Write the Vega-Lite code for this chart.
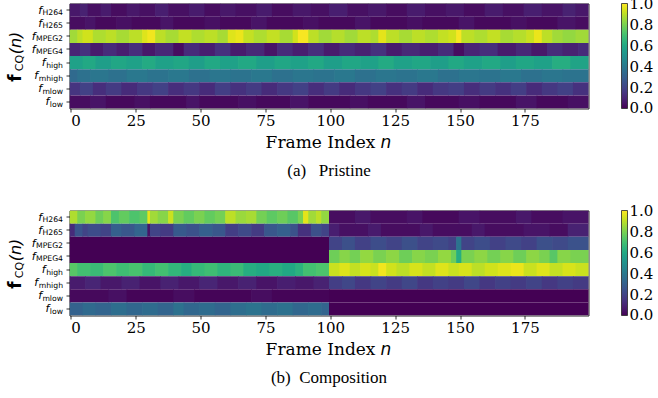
{
  "$schema": "https://vega.github.io/schema/vega-lite/v6.json",
  "padding": {"left": 5.5, "top": 2.5, "right": 0, "bottom": 0},
  "spacing": 30,
  "config": {
    "view": {"stroke": "#262626", "strokeWidth": 1},
    "axis": {"labelColor": "#000", "tickColor": "#000", "titleColor": "#000", "grid": false, "domain": false, "titleFontWeight": "normal"},
    "legend": {"gradientLength": 105, "gradientThickness": 6, "gradientStrokeColor": "#262626", "gradientStrokeWidth": 0.8, "labelFont": "DejaVu Serif", "labelFontSize": 15, "labelColor": "#000", "labelOffset": 5, "offset": 33.4, "padding": 0, "labelBaseline": "middle", "labelOverlap": false}
  },
  "resolve": {"scale": {"color": "independent"}, "legend": {"color": "independent"}},
  "datasets": {
    "labels": [{"f": "H264"}, {"f": "H265"}, {"f": "MPEG2"}, {"f": "MPEG4"}, {"f": "high"}, {"f": "mhigh"}, {"f": "mlow"}, {"f": "low"}],
    "a": [
      {"f":"H264","x":0,"x2":4,"v":0.06},{"f":"H264","x":4,"x2":7,"v":0.09},{"f":"H264","x":7,"x2":12,"v":0.04},{"f":"H264","x":12,"x2":16,"v":0.07},{"f":"H264","x":16,"x2":22,"v":0.03},{"f":"H264","x":22,"x2":27,"v":0.06},{"f":"H264","x":27,"x2":33,"v":0.04},{"f":"H264","x":33,"x2":38,"v":0.08},{"f":"H264","x":38,"x2":46,"v":0.04},{"f":"H264","x":46,"x2":52,"v":0.07},{"f":"H264","x":52,"x2":58,"v":0.03},{"f":"H264","x":58,"x2":64,"v":0.06},{"f":"H264","x":64,"x2":72,"v":0.04},{"f":"H264","x":72,"x2":78,"v":0.07},{"f":"H264","x":78,"x2":86,"v":0.03},{"f":"H264","x":86,"x2":93,"v":0.06},{"f":"H264","x":93,"x2":100,"v":0.04},{"f":"H264","x":100,"x2":107,"v":0.08},{"f":"H264","x":107,"x2":115,"v":0.04},{"f":"H264","x":115,"x2":122,"v":0.06},{"f":"H264","x":122,"x2":130,"v":0.03},{"f":"H264","x":130,"x2":137,"v":0.07},{"f":"H264","x":137,"x2":145,"v":0.04},{"f":"H264","x":145,"x2":152,"v":0.06},{"f":"H264","x":152,"x2":160,"v":0.03},{"f":"H264","x":160,"x2":167,"v":0.07},{"f":"H264","x":167,"x2":175,"v":0.04},{"f":"H264","x":175,"x2":182,"v":0.08},{"f":"H264","x":182,"x2":190,"v":0.05},{"f":"H264","x":190,"x2":195,"v":0.09},{"f":"H264","x":195,"x2":200,"v":0.06},
      {"f":"H265","x":0,"x2":6,"v":0.03},{"f":"H265","x":6,"x2":10,"v":0.05},{"f":"H265","x":10,"x2":18,"v":0.02},{"f":"H265","x":18,"x2":24,"v":0.04},{"f":"H265","x":24,"x2":35,"v":0.02},{"f":"H265","x":35,"x2":40,"v":0.05},{"f":"H265","x":40,"x2":52,"v":0.02},{"f":"H265","x":52,"x2":58,"v":0.04},{"f":"H265","x":58,"x2":70,"v":0.02},{"f":"H265","x":70,"x2":76,"v":0.05},{"f":"H265","x":76,"x2":90,"v":0.02},{"f":"H265","x":90,"x2":96,"v":0.04},{"f":"H265","x":96,"x2":110,"v":0.02},{"f":"H265","x":110,"x2":116,"v":0.05},{"f":"H265","x":116,"x2":130,"v":0.02},{"f":"H265","x":130,"x2":136,"v":0.04},{"f":"H265","x":136,"x2":150,"v":0.02},{"f":"H265","x":150,"x2":156,"v":0.05},{"f":"H265","x":156,"x2":170,"v":0.02},{"f":"H265","x":170,"x2":176,"v":0.04},{"f":"H265","x":176,"x2":188,"v":0.02},{"f":"H265","x":188,"x2":195,"v":0.05},{"f":"H265","x":195,"x2":200,"v":0.03},
      {"f":"MPEG2","x":0,"x2":3,"v":0.86},{"f":"MPEG2","x":3,"x2":5,"v":0.9},{"f":"MPEG2","x":5,"x2":9,"v":0.93},{"f":"MPEG2","x":9,"x2":14,"v":0.88},{"f":"MPEG2","x":14,"x2":18,"v":0.9},{"f":"MPEG2","x":18,"x2":23,"v":0.87},{"f":"MPEG2","x":23,"x2":28,"v":0.9},{"f":"MPEG2","x":28,"x2":30,"v":0.95},{"f":"MPEG2","x":30,"x2":33,"v":0.98},{"f":"MPEG2","x":33,"x2":37,"v":0.9},{"f":"MPEG2","x":37,"x2":42,"v":0.87},{"f":"MPEG2","x":42,"x2":47,"v":0.91},{"f":"MPEG2","x":47,"x2":52,"v":0.88},{"f":"MPEG2","x":52,"x2":57,"v":0.9},{"f":"MPEG2","x":57,"x2":61,"v":0.87},{"f":"MPEG2","x":61,"x2":64,"v":0.95},{"f":"MPEG2","x":64,"x2":67,"v":0.97},{"f":"MPEG2","x":67,"x2":71,"v":0.91},{"f":"MPEG2","x":71,"x2":76,"v":0.88},{"f":"MPEG2","x":76,"x2":81,"v":0.91},{"f":"MPEG2","x":81,"x2":86,"v":0.87},{"f":"MPEG2","x":86,"x2":88,"v":0.93},{"f":"MPEG2","x":88,"x2":92,"v":0.99},{"f":"MPEG2","x":92,"x2":96,"v":0.9},{"f":"MPEG2","x":96,"x2":101,"v":0.86},{"f":"MPEG2","x":101,"x2":106,"v":0.89},{"f":"MPEG2","x":106,"x2":111,"v":0.86},{"f":"MPEG2","x":111,"x2":116,"v":0.9},{"f":"MPEG2","x":116,"x2":119,"v":0.88},{"f":"MPEG2","x":119,"x2":122,"v":0.96},{"f":"MPEG2","x":122,"x2":127,"v":0.9},{"f":"MPEG2","x":127,"x2":132,"v":0.87},{"f":"MPEG2","x":132,"x2":137,"v":0.9},{"f":"MPEG2","x":137,"x2":142,"v":0.88},{"f":"MPEG2","x":142,"x2":146,"v":0.91},{"f":"MPEG2","x":146,"x2":149,"v":0.93},{"f":"MPEG2","x":149,"x2":151,"v":0.99},{"f":"MPEG2","x":151,"x2":156,"v":0.9},{"f":"MPEG2","x":156,"x2":161,"v":0.88},{"f":"MPEG2","x":161,"x2":166,"v":0.91},{"f":"MPEG2","x":166,"x2":171,"v":0.87},{"f":"MPEG2","x":171,"x2":176,"v":0.89},{"f":"MPEG2","x":176,"x2":179,"v":0.92},{"f":"MPEG2","x":179,"x2":182,"v":0.97},{"f":"MPEG2","x":182,"x2":186,"v":0.9},{"f":"MPEG2","x":186,"x2":190,"v":0.86},{"f":"MPEG2","x":190,"x2":195,"v":0.84},{"f":"MPEG2","x":195,"x2":200,"v":0.86},
      {"f":"MPEG4","x":0,"x2":4,"v":0.1},{"f":"MPEG4","x":4,"x2":8,"v":0.14},{"f":"MPEG4","x":8,"x2":13,"v":0.07},{"f":"MPEG4","x":13,"x2":18,"v":0.12},{"f":"MPEG4","x":18,"x2":23,"v":0.08},{"f":"MPEG4","x":23,"x2":28,"v":0.13},{"f":"MPEG4","x":28,"x2":33,"v":0.06},{"f":"MPEG4","x":33,"x2":40,"v":0.11},{"f":"MPEG4","x":40,"x2":44,"v":0.03},{"f":"MPEG4","x":44,"x2":50,"v":0.12},{"f":"MPEG4","x":50,"x2":56,"v":0.08},{"f":"MPEG4","x":56,"x2":62,"v":0.14},{"f":"MPEG4","x":62,"x2":68,"v":0.07},{"f":"MPEG4","x":68,"x2":75,"v":0.11},{"f":"MPEG4","x":75,"x2":80,"v":0.05},{"f":"MPEG4","x":80,"x2":86,"v":0.12},{"f":"MPEG4","x":86,"x2":92,"v":0.08},{"f":"MPEG4","x":92,"x2":98,"v":0.13},{"f":"MPEG4","x":98,"x2":104,"v":0.07},{"f":"MPEG4","x":104,"x2":110,"v":0.12},{"f":"MPEG4","x":110,"x2":116,"v":0.09},{"f":"MPEG4","x":116,"x2":122,"v":0.14},{"f":"MPEG4","x":122,"x2":128,"v":0.07},{"f":"MPEG4","x":128,"x2":135,"v":0.11},{"f":"MPEG4","x":135,"x2":142,"v":0.08},{"f":"MPEG4","x":142,"x2":148,"v":0.12},{"f":"MPEG4","x":148,"x2":152,"v":0.03},{"f":"MPEG4","x":152,"x2":158,"v":0.1},{"f":"MPEG4","x":158,"x2":165,"v":0.13},{"f":"MPEG4","x":165,"x2":172,"v":0.07},{"f":"MPEG4","x":172,"x2":178,"v":0.11},{"f":"MPEG4","x":178,"x2":184,"v":0.06},{"f":"MPEG4","x":184,"x2":190,"v":0.12},{"f":"MPEG4","x":190,"x2":196,"v":0.09},{"f":"MPEG4","x":196,"x2":200,"v":0.12},
      {"f":"high","x":0,"x2":5,"v":0.57},{"f":"high","x":5,"x2":10,"v":0.6},{"f":"high","x":10,"x2":16,"v":0.56},{"f":"high","x":16,"x2":22,"v":0.59},{"f":"high","x":22,"x2":28,"v":0.57},{"f":"high","x":28,"x2":33,"v":0.61},{"f":"high","x":33,"x2":40,"v":0.57},{"f":"high","x":40,"x2":46,"v":0.59},{"f":"high","x":46,"x2":52,"v":0.56},{"f":"high","x":52,"x2":58,"v":0.6},{"f":"high","x":58,"x2":65,"v":0.57},{"f":"high","x":65,"x2":72,"v":0.6},{"f":"high","x":72,"x2":79,"v":0.56},{"f":"high","x":79,"x2":85,"v":0.59},{"f":"high","x":85,"x2":92,"v":0.57},{"f":"high","x":92,"x2":98,"v":0.6},{"f":"high","x":98,"x2":105,"v":0.56},{"f":"high","x":105,"x2":112,"v":0.59},{"f":"high","x":112,"x2":119,"v":0.57},{"f":"high","x":119,"x2":125,"v":0.61},{"f":"high","x":125,"x2":132,"v":0.57},{"f":"high","x":132,"x2":139,"v":0.59},{"f":"high","x":139,"x2":146,"v":0.56},{"f":"high","x":146,"x2":152,"v":0.6},{"f":"high","x":152,"x2":159,"v":0.57},{"f":"high","x":159,"x2":166,"v":0.6},{"f":"high","x":166,"x2":172,"v":0.56},{"f":"high","x":172,"x2":179,"v":0.59},{"f":"high","x":179,"x2":186,"v":0.57},{"f":"high","x":186,"x2":193,"v":0.62},{"f":"high","x":193,"x2":200,"v":0.58},
      {"f":"mhigh","x":0,"x2":3,"v":0.34},{"f":"mhigh","x":3,"x2":8,"v":0.37},{"f":"mhigh","x":8,"x2":15,"v":0.39},{"f":"mhigh","x":15,"x2":22,"v":0.37},{"f":"mhigh","x":22,"x2":30,"v":0.4},{"f":"mhigh","x":30,"x2":38,"v":0.38},{"f":"mhigh","x":38,"x2":46,"v":0.4},{"f":"mhigh","x":46,"x2":54,"v":0.37},{"f":"mhigh","x":54,"x2":62,"v":0.39},{"f":"mhigh","x":62,"x2":70,"v":0.38},{"f":"mhigh","x":70,"x2":78,"v":0.4},{"f":"mhigh","x":78,"x2":86,"v":0.37},{"f":"mhigh","x":86,"x2":94,"v":0.39},{"f":"mhigh","x":94,"x2":102,"v":0.38},{"f":"mhigh","x":102,"x2":110,"v":0.4},{"f":"mhigh","x":110,"x2":118,"v":0.37},{"f":"mhigh","x":118,"x2":126,"v":0.39},{"f":"mhigh","x":126,"x2":134,"v":0.38},{"f":"mhigh","x":134,"x2":142,"v":0.4},{"f":"mhigh","x":142,"x2":150,"v":0.37},{"f":"mhigh","x":150,"x2":158,"v":0.39},{"f":"mhigh","x":158,"x2":166,"v":0.38},{"f":"mhigh","x":166,"x2":174,"v":0.4},{"f":"mhigh","x":174,"x2":182,"v":0.37},{"f":"mhigh","x":182,"x2":190,"v":0.39},{"f":"mhigh","x":190,"x2":200,"v":0.38},
      {"f":"mlow","x":0,"x2":4,"v":0.15},{"f":"mlow","x":4,"x2":9,"v":0.19},{"f":"mlow","x":9,"x2":14,"v":0.13},{"f":"mlow","x":14,"x2":20,"v":0.17},{"f":"mlow","x":20,"x2":26,"v":0.12},{"f":"mlow","x":26,"x2":32,"v":0.16},{"f":"mlow","x":32,"x2":38,"v":0.19},{"f":"mlow","x":38,"x2":44,"v":0.13},{"f":"mlow","x":44,"x2":50,"v":0.16},{"f":"mlow","x":50,"x2":56,"v":0.12},{"f":"mlow","x":56,"x2":62,"v":0.18},{"f":"mlow","x":62,"x2":68,"v":0.14},{"f":"mlow","x":68,"x2":74,"v":0.17},{"f":"mlow","x":74,"x2":80,"v":0.12},{"f":"mlow","x":80,"x2":86,"v":0.16},{"f":"mlow","x":86,"x2":92,"v":0.19},{"f":"mlow","x":92,"x2":98,"v":0.13},{"f":"mlow","x":98,"x2":104,"v":0.17},{"f":"mlow","x":104,"x2":110,"v":0.12},{"f":"mlow","x":110,"x2":116,"v":0.16},{"f":"mlow","x":116,"x2":122,"v":0.19},{"f":"mlow","x":122,"x2":128,"v":0.14},{"f":"mlow","x":128,"x2":134,"v":0.17},{"f":"mlow","x":134,"x2":140,"v":0.12},{"f":"mlow","x":140,"x2":146,"v":0.16},{"f":"mlow","x":146,"x2":152,"v":0.18},{"f":"mlow","x":152,"x2":158,"v":0.13},{"f":"mlow","x":158,"x2":164,"v":0.17},{"f":"mlow","x":164,"x2":170,"v":0.14},{"f":"mlow","x":170,"x2":176,"v":0.18},{"f":"mlow","x":176,"x2":182,"v":0.12},{"f":"mlow","x":182,"x2":188,"v":0.16},{"f":"mlow","x":188,"x2":194,"v":0.19},{"f":"mlow","x":194,"x2":200,"v":0.14},
      {"f":"low","x":0,"x2":8,"v":0.03},{"f":"low","x":8,"x2":14,"v":0.05},{"f":"low","x":14,"x2":25,"v":0.02},{"f":"low","x":25,"x2":31,"v":0.04},{"f":"low","x":31,"x2":45,"v":0.02},{"f":"low","x":45,"x2":50,"v":0.05},{"f":"low","x":50,"x2":65,"v":0.02},{"f":"low","x":65,"x2":72,"v":0.04},{"f":"low","x":72,"x2":85,"v":0.02},{"f":"low","x":85,"x2":92,"v":0.05},{"f":"low","x":92,"x2":108,"v":0.02},{"f":"low","x":108,"x2":115,"v":0.04},{"f":"low","x":115,"x2":130,"v":0.02},{"f":"low","x":130,"x2":137,"v":0.05},{"f":"low","x":137,"x2":150,"v":0.02},{"f":"low","x":150,"x2":158,"v":0.04},{"f":"low","x":158,"x2":172,"v":0.02},{"f":"low","x":172,"x2":180,"v":0.05},{"f":"low","x":180,"x2":192,"v":0.02},{"f":"low","x":192,"x2":200,"v":0.04}
    ],
    "b": [
      {"f":"H264","x":0,"x2":3,"v":0.88},{"f":"H264","x":3,"x2":6,"v":0.8},{"f":"H264","x":6,"x2":10,"v":0.84},{"f":"H264","x":10,"x2":13,"v":0.78},{"f":"H264","x":13,"x2":16,"v":0.82},{"f":"H264","x":16,"x2":19,"v":0.72},{"f":"H264","x":19,"x2":23,"v":0.76},{"f":"H264","x":23,"x2":27,"v":0.72},{"f":"H264","x":27,"x2":30,"v":0.75},{"f":"H264","x":30,"x2":31,"v":0.96},{"f":"H264","x":31,"x2":34,"v":0.86},{"f":"H264","x":34,"x2":38,"v":0.82},{"f":"H264","x":38,"x2":40,"v":0.92},{"f":"H264","x":40,"x2":44,"v":0.8},{"f":"H264","x":44,"x2":48,"v":0.76},{"f":"H264","x":48,"x2":52,"v":0.8},{"f":"H264","x":52,"x2":56,"v":0.76},{"f":"H264","x":56,"x2":60,"v":0.79},{"f":"H264","x":60,"x2":64,"v":0.9},{"f":"H264","x":64,"x2":68,"v":0.85},{"f":"H264","x":68,"x2":72,"v":0.87},{"f":"H264","x":72,"x2":76,"v":0.79},{"f":"H264","x":76,"x2":80,"v":0.75},{"f":"H264","x":80,"x2":84,"v":0.78},{"f":"H264","x":84,"x2":88,"v":0.74},{"f":"H264","x":88,"x2":90,"v":0.8},{"f":"H264","x":90,"x2":92,"v":0.96},{"f":"H264","x":92,"x2":95,"v":0.86},{"f":"H264","x":95,"x2":97,"v":0.9},{"f":"H264","x":97,"x2":100,"v":0.84},
      {"f":"H264","x":100,"x2":110,"v":0.03},{"f":"H264","x":110,"x2":116,"v":0.06},{"f":"H264","x":116,"x2":130,"v":0.03},{"f":"H264","x":130,"x2":136,"v":0.05},{"f":"H264","x":136,"x2":150,"v":0.02},{"f":"H264","x":150,"x2":158,"v":0.05},{"f":"H264","x":158,"x2":172,"v":0.03},{"f":"H264","x":172,"x2":178,"v":0.06},{"f":"H264","x":178,"x2":190,"v":0.03},{"f":"H264","x":190,"x2":200,"v":0.05},
      {"f":"H265","x":0,"x2":2,"v":0.12},{"f":"H265","x":2,"x2":5,"v":0.26},{"f":"H265","x":5,"x2":7,"v":0.2},{"f":"H265","x":7,"x2":12,"v":0.23},{"f":"H265","x":12,"x2":16,"v":0.2},{"f":"H265","x":16,"x2":20,"v":0.3},{"f":"H265","x":20,"x2":25,"v":0.27},{"f":"H265","x":25,"x2":30,"v":0.32},{"f":"H265","x":30,"x2":31,"v":0.05},{"f":"H265","x":31,"x2":35,"v":0.2},{"f":"H265","x":35,"x2":40,"v":0.17},{"f":"H265","x":40,"x2":45,"v":0.28},{"f":"H265","x":45,"x2":50,"v":0.25},{"f":"H265","x":50,"x2":55,"v":0.3},{"f":"H265","x":55,"x2":60,"v":0.27},{"f":"H265","x":60,"x2":65,"v":0.18},{"f":"H265","x":65,"x2":70,"v":0.22},{"f":"H265","x":70,"x2":75,"v":0.17},{"f":"H265","x":75,"x2":80,"v":0.27},{"f":"H265","x":80,"x2":85,"v":0.3},{"f":"H265","x":85,"x2":88,"v":0.25},{"f":"H265","x":88,"x2":93,"v":0.14},{"f":"H265","x":93,"x2":97,"v":0.24},{"f":"H265","x":97,"x2":100,"v":0.2},
      {"f":"H265","x":100,"x2":104,"v":0.08},{"f":"H265","x":104,"x2":115,"v":0.04},{"f":"H265","x":115,"x2":120,"v":0.07},{"f":"H265","x":120,"x2":135,"v":0.03},{"f":"H265","x":135,"x2":140,"v":0.06},{"f":"H265","x":140,"x2":155,"v":0.03},{"f":"H265","x":155,"x2":160,"v":0.06},{"f":"H265","x":160,"x2":175,"v":0.03},{"f":"H265","x":175,"x2":185,"v":0.05},{"f":"H265","x":185,"x2":192,"v":0.03},{"f":"H265","x":192,"x2":200,"v":0.09},
      {"f":"MPEG2","x":0,"x2":100,"v":0.0},
      {"f":"MPEG2","x":100,"x2":105,"v":0.2},{"f":"MPEG2","x":105,"x2":110,"v":0.24},{"f":"MPEG2","x":110,"x2":116,"v":0.19},{"f":"MPEG2","x":116,"x2":122,"v":0.23},{"f":"MPEG2","x":122,"x2":128,"v":0.2},{"f":"MPEG2","x":128,"x2":134,"v":0.24},{"f":"MPEG2","x":134,"x2":140,"v":0.2},{"f":"MPEG2","x":140,"x2":146,"v":0.22},{"f":"MPEG2","x":146,"x2":149,"v":0.19},{"f":"MPEG2","x":149,"x2":151,"v":0.38},{"f":"MPEG2","x":151,"x2":156,"v":0.2},{"f":"MPEG2","x":156,"x2":162,"v":0.23},{"f":"MPEG2","x":162,"x2":168,"v":0.19},{"f":"MPEG2","x":168,"x2":174,"v":0.22},{"f":"MPEG2","x":174,"x2":180,"v":0.19},{"f":"MPEG2","x":180,"x2":186,"v":0.24},{"f":"MPEG2","x":186,"x2":192,"v":0.22},{"f":"MPEG2","x":192,"x2":200,"v":0.25},
      {"f":"MPEG4","x":0,"x2":100,"v":0.0},
      {"f":"MPEG4","x":100,"x2":104,"v":0.78},{"f":"MPEG4","x":104,"x2":108,"v":0.82},{"f":"MPEG4","x":108,"x2":112,"v":0.79},{"f":"MPEG4","x":112,"x2":117,"v":0.84},{"f":"MPEG4","x":117,"x2":122,"v":0.8},{"f":"MPEG4","x":122,"x2":127,"v":0.83},{"f":"MPEG4","x":127,"x2":132,"v":0.78},{"f":"MPEG4","x":132,"x2":137,"v":0.82},{"f":"MPEG4","x":137,"x2":142,"v":0.8},{"f":"MPEG4","x":142,"x2":147,"v":0.84},{"f":"MPEG4","x":147,"x2":149,"v":0.78},{"f":"MPEG4","x":149,"x2":151,"v":0.62},{"f":"MPEG4","x":151,"x2":156,"v":0.8},{"f":"MPEG4","x":156,"x2":161,"v":0.83},{"f":"MPEG4","x":161,"x2":166,"v":0.79},{"f":"MPEG4","x":166,"x2":171,"v":0.82},{"f":"MPEG4","x":171,"x2":176,"v":0.78},{"f":"MPEG4","x":176,"x2":181,"v":0.83},{"f":"MPEG4","x":181,"x2":185,"v":0.8},{"f":"MPEG4","x":185,"x2":188,"v":0.74},{"f":"MPEG4","x":188,"x2":193,"v":0.82},{"f":"MPEG4","x":193,"x2":200,"v":0.8},
      {"f":"high","x":0,"x2":3,"v":0.74},{"f":"high","x":3,"x2":8,"v":0.7},{"f":"high","x":8,"x2":13,"v":0.68},{"f":"high","x":13,"x2":18,"v":0.72},{"f":"high","x":18,"x2":23,"v":0.69},{"f":"high","x":23,"x2":28,"v":0.71},{"f":"high","x":28,"x2":33,"v":0.67},{"f":"high","x":33,"x2":38,"v":0.7},{"f":"high","x":38,"x2":43,"v":0.66},{"f":"high","x":43,"x2":47,"v":0.62},{"f":"high","x":47,"x2":52,"v":0.67},{"f":"high","x":52,"x2":57,"v":0.69},{"f":"high","x":57,"x2":62,"v":0.65},{"f":"high","x":62,"x2":67,"v":0.68},{"f":"high","x":67,"x2":72,"v":0.62},{"f":"high","x":72,"x2":77,"v":0.6},{"f":"high","x":77,"x2":82,"v":0.63},{"f":"high","x":82,"x2":87,"v":0.6},{"f":"high","x":87,"x2":90,"v":0.64},{"f":"high","x":90,"x2":95,"v":0.7},{"f":"high","x":95,"x2":100,"v":0.72},
      {"f":"high","x":100,"x2":104,"v":0.92},{"f":"high","x":104,"x2":108,"v":0.95},{"f":"high","x":108,"x2":112,"v":0.91},{"f":"high","x":112,"x2":116,"v":0.94},{"f":"high","x":116,"x2":119,"v":0.92},{"f":"high","x":119,"x2":122,"v":0.98},{"f":"high","x":122,"x2":126,"v":0.93},{"f":"high","x":126,"x2":131,"v":0.9},{"f":"high","x":131,"x2":136,"v":0.94},{"f":"high","x":136,"x2":141,"v":0.91},{"f":"high","x":141,"x2":146,"v":0.95},{"f":"high","x":146,"x2":150,"v":0.92},{"f":"high","x":150,"x2":155,"v":0.94},{"f":"high","x":155,"x2":160,"v":0.9},{"f":"high","x":160,"x2":165,"v":0.93},{"f":"high","x":165,"x2":170,"v":0.95},{"f":"high","x":170,"x2":175,"v":0.97},{"f":"high","x":175,"x2":180,"v":0.92},{"f":"high","x":180,"x2":185,"v":0.95},{"f":"high","x":185,"x2":190,"v":0.91},{"f":"high","x":190,"x2":195,"v":0.94},{"f":"high","x":195,"x2":200,"v":0.92},
      {"f":"mhigh","x":0,"x2":6,"v":0.07},{"f":"mhigh","x":6,"x2":12,"v":0.1},{"f":"mhigh","x":12,"x2":20,"v":0.06},{"f":"mhigh","x":20,"x2":27,"v":0.09},{"f":"mhigh","x":27,"x2":35,"v":0.05},{"f":"mhigh","x":35,"x2":42,"v":0.09},{"f":"mhigh","x":42,"x2":50,"v":0.06},{"f":"mhigh","x":50,"x2":57,"v":0.1},{"f":"mhigh","x":57,"x2":65,"v":0.06},{"f":"mhigh","x":65,"x2":72,"v":0.09},{"f":"mhigh","x":72,"x2":80,"v":0.05},{"f":"mhigh","x":80,"x2":87,"v":0.08},{"f":"mhigh","x":87,"x2":94,"v":0.06},{"f":"mhigh","x":94,"x2":100,"v":0.09},
      {"f":"mhigh","x":100,"x2":105,"v":0.18},{"f":"mhigh","x":105,"x2":110,"v":0.21},{"f":"mhigh","x":110,"x2":116,"v":0.16},{"f":"mhigh","x":116,"x2":122,"v":0.2},{"f":"mhigh","x":122,"x2":128,"v":0.17},{"f":"mhigh","x":128,"x2":134,"v":0.21},{"f":"mhigh","x":134,"x2":140,"v":0.16},{"f":"mhigh","x":140,"x2":146,"v":0.19},{"f":"mhigh","x":146,"x2":152,"v":0.17},{"f":"mhigh","x":152,"x2":158,"v":0.21},{"f":"mhigh","x":158,"x2":164,"v":0.16},{"f":"mhigh","x":164,"x2":170,"v":0.19},{"f":"mhigh","x":170,"x2":176,"v":0.17},{"f":"mhigh","x":176,"x2":182,"v":0.2},{"f":"mhigh","x":182,"x2":188,"v":0.16},{"f":"mhigh","x":188,"x2":194,"v":0.19},{"f":"mhigh","x":194,"x2":200,"v":0.17},
      {"f":"mlow","x":0,"x2":15,"v":0.02},{"f":"mlow","x":15,"x2":22,"v":0.04},{"f":"mlow","x":22,"x2":40,"v":0.01},{"f":"mlow","x":40,"x2":48,"v":0.03},{"f":"mlow","x":48,"x2":70,"v":0.01},{"f":"mlow","x":70,"x2":78,"v":0.03},{"f":"mlow","x":78,"x2":100,"v":0.01},{"f":"mlow","x":100,"x2":200,"v":0.0},
      {"f":"low","x":0,"x2":5,"v":0.31},{"f":"low","x":5,"x2":10,"v":0.34},{"f":"low","x":10,"x2":16,"v":0.32},{"f":"low","x":16,"x2":22,"v":0.36},{"f":"low","x":22,"x2":28,"v":0.33},{"f":"low","x":28,"x2":34,"v":0.35},{"f":"low","x":34,"x2":40,"v":0.32},{"f":"low","x":40,"x2":44,"v":0.37},{"f":"low","x":44,"x2":50,"v":0.33},{"f":"low","x":50,"x2":56,"v":0.35},{"f":"low","x":56,"x2":62,"v":0.32},{"f":"low","x":62,"x2":68,"v":0.36},{"f":"low","x":68,"x2":74,"v":0.38},{"f":"low","x":74,"x2":80,"v":0.35},{"f":"low","x":80,"x2":86,"v":0.37},{"f":"low","x":86,"x2":92,"v":0.33},{"f":"low","x":92,"x2":97,"v":0.35},{"f":"low","x":97,"x2":100,"v":0.32},{"f":"low","x":100,"x2":200,"v":0.0}
    ]
  },
  "vconcat": [
    {
      "width": 519, "height": 105,
      "title": {"text": "(a)\u00a0\u00a0\u00a0Pristine", "orient": "bottom", "anchor": "middle", "frame": "group", "font": "Liberation Serif", "fontSize": 17, "fontWeight": "normal", "color": "#000", "offset": 12},
      "resolve": {"axis": {"x": "independent", "y": "independent"}},
      "layer": [
        {
          "data": {"name": "a"},
          "mark": {"type": "rect", "x2Offset": 0.7, "clip": true},
          "encoding": {
            "x": {"field": "x", "type": "quantitative", "scale": {"domain": [0, 200], "nice": false, "zero": false},
                  "axis": {"orient": "bottom", "values": [0, 25, 50, 75, 100, 125, 150, 175], "tickOffset": 1.3, "tickSize": 3.5, "tickWidth": 0.8, "labelFont": "DejaVu Serif", "labelFontSize": 15, "labelPadding": 1, "title": "Frame Index", "titleFont": "DejaVu Serif", "titleFontSize": 17, "titleAlign": "left", "titleAnchor": "start", "titleX": 195.6, "titleY": 39, "titleBaseline": "alphabetic"}},
            "x2": {"field": "x2"},
            "y": {"field": "f", "type": "nominal", "scale": {"type": "band", "domain": ["H264", "H265", "MPEG2", "MPEG4", "high", "mhigh", "mlow", "low"], "paddingInner": 0, "paddingOuter": 0},
                  "axis": {"orient": "left", "tickSize": 3.5, "tickWidth": 0.8, "labelFont": "DejaVu Sans", "labelFontSize": 7.7, "labelPadding": 3.5, "labelOffset": 3, "title": "CQ", "titleFont": "DejaVu Sans", "titleFontSize": 11, "titleAngle": 270, "titleAlign": "center", "titleBaseline": "alphabetic", "titleX": -47, "titleY": 59}},
            "color": {"field": "v", "type": "quantitative", "scale": {"scheme": "viridis", "domain": [0, 1]},
                      "legend": {"title": null, "type": "gradient", "direction": "vertical", "values": [0.0001, 0.2, 0.4, 0.6, 0.8, 0.9999], "format": ".1f"}}
          }
        },
        {
          "data": {"name": "labels"},
          "mark": {"type": "text"},
          "encoding": {
            "y": {"field": "f", "type": "nominal", "scale": {"type": "band", "domain": ["H264", "H265", "MPEG2", "MPEG4", "high", "mhigh", "mlow", "low"], "paddingInner": 0, "paddingOuter": 0},
                  "axis": {"orient": "left", "ticks": false, "tickSize": 0, "labelExpr": "'f'", "labelFont": "DejaVu Sans", "labelFontStyle": "italic", "labelFontSize": 11, "labelOffset": 0.5, "labelAlign": "right",
                           "labelPadding": {"condition": [{"test": "datum.value=='MPEG2'||datum.value=='MPEG4'", "value": 34.5}, {"test": "datum.value=='mhigh'", "value": 31.8}, {"test": "datum.value=='H264'||datum.value=='H265'||datum.value=='mlow'", "value": 28}, {"test": "datum.value=='high'", "value": 24.3}], "value": 20.7},
                           "title": "f", "titleFont": "DejaVu Sans", "titleFontWeight": "bold", "titleFontSize": 17, "titleAngle": 270, "titleAlign": "center", "titleBaseline": "alphabetic", "titleX": -49.5, "titleY": 74}},
            "x": {"datum": 0, "type": "quantitative", "axis": {"orient": "bottom", "labels": false, "ticks": false, "title": "n", "titleFont": "DejaVu Sans", "titleFontStyle": "italic", "titleFontSize": 17, "titleAlign": "left", "titleAnchor": "start", "titleX": 310.6, "titleY": 39, "titleBaseline": "alphabetic"}},
            "text": {"value": ""}
          }
        },
        {
          "data": {"name": "labels"},
          "mark": {"type": "text"},
          "encoding": {
            "y": {"field": "f", "type": "nominal", "scale": {"type": "band", "domain": ["H264", "H265", "MPEG2", "MPEG4", "high", "mhigh", "mlow", "low"], "paddingInner": 0, "paddingOuter": 0},
                  "axis": {"orient": "left", "ticks": false, "labels": false, "title": "(n)", "titleFont": "DejaVu Sans", "titleFontStyle": "italic", "titleFontSize": 16, "titleAngle": 270, "titleAlign": "center", "titleBaseline": "alphabetic", "titleX": -49.5, "titleY": 39}},
            "text": {"value": ""}
          }
        }
      ]
    },
    {
      "width": 519, "height": 105,
      "title": {"text": "(b)\u00a0\u00a0Composition", "orient": "bottom", "anchor": "middle", "frame": "group", "font": "Liberation Serif", "fontSize": 17, "fontWeight": "normal", "color": "#000", "offset": 12},
      "resolve": {"axis": {"x": "independent", "y": "independent"}},
      "layer": [
        {
          "data": {"name": "b"},
          "mark": {"type": "rect", "x2Offset": 0.7, "clip": true},
          "encoding": {
            "x": {"field": "x", "type": "quantitative", "scale": {"domain": [0, 200], "nice": false, "zero": false},
                  "axis": {"orient": "bottom", "values": [0, 25, 50, 75, 100, 125, 150, 175], "tickOffset": 1.3, "tickSize": 3.5, "tickWidth": 0.8, "labelFont": "DejaVu Serif", "labelFontSize": 15, "labelPadding": 1, "title": "Frame Index", "titleFont": "DejaVu Serif", "titleFontSize": 17, "titleAlign": "left", "titleAnchor": "start", "titleX": 195.6, "titleY": 39, "titleBaseline": "alphabetic"}},
            "x2": {"field": "x2"},
            "y": {"field": "f", "type": "nominal", "scale": {"type": "band", "domain": ["H264", "H265", "MPEG2", "MPEG4", "high", "mhigh", "mlow", "low"], "paddingInner": 0, "paddingOuter": 0},
                  "axis": {"orient": "left", "tickSize": 3.5, "tickWidth": 0.8, "labelFont": "DejaVu Sans", "labelFontSize": 7.7, "labelPadding": 3.5, "labelOffset": 3, "title": "CQ", "titleFont": "DejaVu Sans", "titleFontSize": 11, "titleAngle": 270, "titleAlign": "center", "titleBaseline": "alphabetic", "titleX": -47, "titleY": 59}},
            "color": {"field": "v", "type": "quantitative", "scale": {"scheme": "viridis", "domain": [0, 1]},
                      "legend": {"title": null, "type": "gradient", "direction": "vertical", "values": [0.0001, 0.2, 0.4, 0.6, 0.8, 0.9999], "format": ".1f"}}
          }
        },
        {
          "data": {"name": "labels"},
          "mark": {"type": "text"},
          "encoding": {
            "y": {"field": "f", "type": "nominal", "scale": {"type": "band", "domain": ["H264", "H265", "MPEG2", "MPEG4", "high", "mhigh", "mlow", "low"], "paddingInner": 0, "paddingOuter": 0},
                  "axis": {"orient": "left", "ticks": false, "tickSize": 0, "labelExpr": "'f'", "labelFont": "DejaVu Sans", "labelFontStyle": "italic", "labelFontSize": 11, "labelOffset": 0.5, "labelAlign": "right",
                           "labelPadding": {"condition": [{"test": "datum.value=='MPEG2'||datum.value=='MPEG4'", "value": 34.5}, {"test": "datum.value=='mhigh'", "value": 31.8}, {"test": "datum.value=='H264'||datum.value=='H265'||datum.value=='mlow'", "value": 28}, {"test": "datum.value=='high'", "value": 24.3}], "value": 20.7},
                           "title": "f", "titleFont": "DejaVu Sans", "titleFontWeight": "bold", "titleFontSize": 17, "titleAngle": 270, "titleAlign": "center", "titleBaseline": "alphabetic", "titleX": -49.5, "titleY": 74}},
            "x": {"datum": 0, "type": "quantitative", "axis": {"orient": "bottom", "labels": false, "ticks": false, "title": "n", "titleFont": "DejaVu Sans", "titleFontStyle": "italic", "titleFontSize": 17, "titleAlign": "left", "titleAnchor": "start", "titleX": 310.6, "titleY": 39, "titleBaseline": "alphabetic"}},
            "text": {"value": ""}
          }
        },
        {
          "data": {"name": "labels"},
          "mark": {"type": "text"},
          "encoding": {
            "y": {"field": "f", "type": "nominal", "scale": {"type": "band", "domain": ["H264", "H265", "MPEG2", "MPEG4", "high", "mhigh", "mlow", "low"], "paddingInner": 0, "paddingOuter": 0},
                  "axis": {"orient": "left", "ticks": false, "labels": false, "title": "(n)", "titleFont": "DejaVu Sans", "titleFontStyle": "italic", "titleFontSize": 16, "titleAngle": 270, "titleAlign": "center", "titleBaseline": "alphabetic", "titleX": -49.5, "titleY": 39}},
            "text": {"value": ""}
          }
        }
      ]
    }
  ]
}
